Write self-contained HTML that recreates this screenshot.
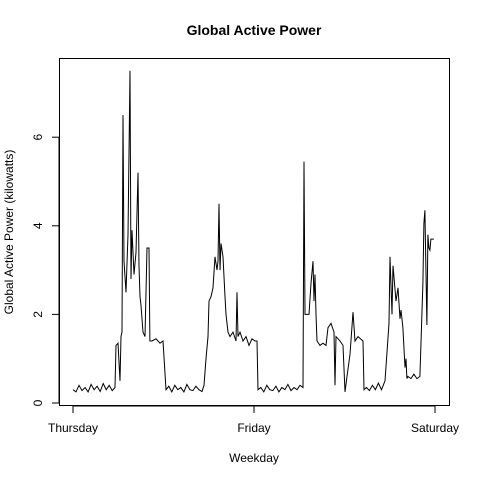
<!DOCTYPE html>
<html><head><meta charset="utf-8"><style>
body{margin:0;background:#fff;}
svg{display:block;font-family:"Liberation Sans",sans-serif;}
</style></head><body>
<svg id="chart" width="480" height="480">
<text x="254" y="35" text-anchor="middle" font-size="14" font-weight="bold">Global Active Power</text>
<text x="254" y="462" text-anchor="middle" font-size="12">Weekday</text>
<text transform="translate(13,232) rotate(-90)" text-anchor="middle" font-size="12">Global Active Power (kilowatts)</text>
<rect x="59.5" y="58.5" width="390" height="347" fill="none" stroke="#000"/>
<g id="axes"></g>
<polyline id="series" fill="none" stroke="#000" stroke-width="1"/>
</svg>
<script>
const hours=[0,0.4,0.8,1.2,1.6,2.0,2.4,2.8,3.2,3.6,4.0,4.4,4.8,5.2,5.57,5.7,5.97,6.23,6.36,6.5,6.63,6.76,7.03,7.29,7.56,7.69,7.82,8.09,8.35,8.62,8.75,8.88,9.02,9.28,9.55,9.81,10.08,10.2,10.47,11.0,11.54,11.93,12.33,12.7,13.1,13.5,13.9,14.3,14.7,15.1,15.5,15.9,16.3,16.7,17.1,17.37,17.63,17.9,18.03,18.3,18.56,18.83,19.09,19.23,19.36,19.49,19.62,19.89,20.15,20.29,20.55,20.82,21.21,21.61,21.75,21.88,22.14,22.54,22.94,23.34,23.73,24.13,24.4,24.53,24.9,25.3,25.7,26.1,26.5,26.9,27.3,27.7,28.1,28.5,28.9,29.3,29.7,30.1,30.5,30.63,30.76,31.29,31.56,31.82,31.96,32.09,32.22,32.35,32.75,33.15,33.55,33.81,34.21,34.61,34.74,34.87,35.4,35.8,36.07,36.33,36.73,37.13,37.39,37.79,38.45,38.58,38.9,39.3,39.7,40.1,40.5,40.9,41.37,41.9,42.03,42.3,42.43,42.83,43.09,43.36,43.49,43.75,44.02,44.15,44.28,44.41,44.8,45.2,45.6,46.0,46.4,46.53,46.66,46.93,47.06,47.19,47.32,47.46,47.85,47.98];
const power=[0.3,0.25,0.4,0.28,0.35,0.25,0.42,0.3,0.38,0.26,0.44,0.3,0.4,0.28,0.35,1.3,1.35,0.5,1.5,1.6,6.5,3.2,2.5,3.8,7.5,2.8,3.9,2.9,3.4,5.2,3.1,2.4,2.2,1.6,1.5,3.5,3.5,1.4,1.4,1.45,1.35,1.4,0.3,0.38,0.25,0.4,0.3,0.35,0.25,0.42,0.3,0.28,0.38,0.3,0.26,0.4,1.0,1.5,2.3,2.4,2.6,3.3,3.0,3.2,4.5,3.0,3.6,3.3,2.4,2.0,1.6,1.5,1.6,1.4,2.5,1.5,1.6,1.4,1.5,1.3,1.45,1.4,1.4,0.3,0.35,0.25,0.4,0.3,0.28,0.38,0.25,0.35,0.3,0.42,0.28,0.35,0.3,0.4,0.35,5.45,2.0,2.0,2.7,3.2,2.3,2.9,2.0,1.4,1.3,1.35,1.3,1.7,1.8,1.6,0.4,1.5,1.4,1.3,0.25,0.6,1.1,2.05,1.4,1.5,1.4,0.3,0.35,0.28,0.4,0.3,0.45,0.3,0.5,1.8,3.3,2.0,3.1,2.3,2.6,1.9,2.1,1.7,0.8,1.0,0.55,0.6,0.55,0.65,0.55,0.6,2.7,4.05,4.35,1.76,3.8,3.5,3.45,3.7,3.7];
const tickVals=[0,2,4,6];
const dayLabels=["Thursday","Friday","Saturday"];
const dayHours=[0,24,48];
const sx=h=>73+h*181/24;
const sy=v=>403-v*44.3;
const NS="http://www.w3.org/2000/svg";
const axes=document.getElementById('axes');
function mk(tag,attrs,text){const e=document.createElementNS(NS,tag);for(const k in attrs)e.setAttribute(k,attrs[k]);if(text!==undefined)e.textContent=text;axes.appendChild(e);return e;}
mk('line',{x1:59,x2:59,y1:sy(0),y2:sy(6),stroke:'#000'});
tickVals.forEach(v=>{
 const t=mk('line',{x1:52,x2:59,y1:sy(v),y2:sy(v),stroke:'#000'});
 
 
 const l=mk('text',{transform:`translate(42,${sy(v)}) rotate(-90)`,'text-anchor':'middle','font-size':12},String(v));
 
 
});
mk('line',{x1:sx(0),x2:sx(48),y1:406,y2:406,stroke:'#000'});
dayHours.forEach((h,i)=>{
 const t=mk('line',{x1:sx(h),x2:sx(h),y1:406,y2:413,stroke:'#000'});
 
 
 const l=mk('text',{x:sx(h),y:432,'text-anchor':'middle','font-size':12},dayLabels[i]);
 
 
});
document.getElementById('series').setAttribute('points',hours.map((h,i)=>sx(h).toFixed(1)+','+sy(power[i]).toFixed(1)).join(' '));
</script>
</body></html>
